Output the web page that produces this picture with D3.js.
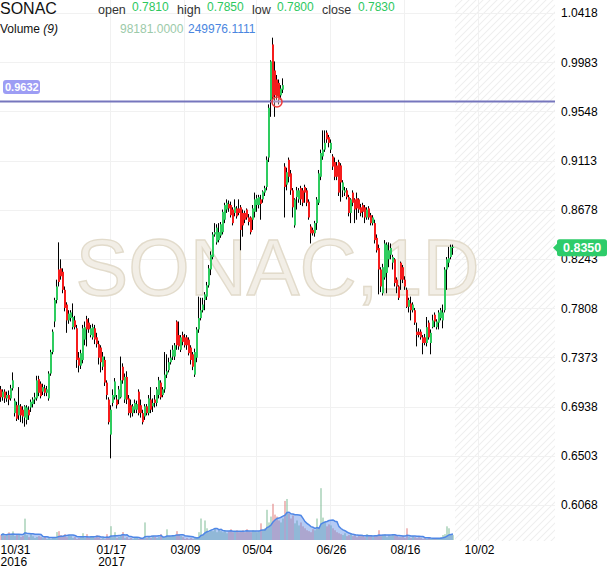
<!DOCTYPE html>
<html><head><meta charset="utf-8">
<script src="https://cdn.jsdelivr.net/npm/d3@7"></script>
<style>
html,body{margin:0;padding:0;background:#fff;}
svg{display:block;font-family:"Liberation Sans",Arial,sans-serif;}
</style></head><body>
<svg id="c" width="610" height="568"></svg>
<script>
const symbol = "SONAC";
const watermark = "SONAC,1D";
const open = [
.709,.702,.707,.701,.704,.701,.710,.688,.695,.686,
.694,.691,.684,.682,.691,.693,.696,.700,.701,.718,
.714,.707,.710,.706,.701,.723,.742,.769,.788,.815,
.816,.813,.797,.784,.770,.772,.764,.770,.763,.737,
.730,.735,.753,.771,.768,.757,.755,.763,.755,.749,
.746,.729,.735,.715,.700,.669,.697,.702,.700,.700,
.702,.729,.700,.720,.701,.695,.688,.691,.691,.707,
.695,.688,.685,.694,.688,.700,.694,.700,.697,.704,
.715,.704,.709,.722,.726,.733,.738,.738,.769,.757,
.744,.757,.755,.755,.753,.746,.740,.722,.737,.762,
.772,.779,.788,.791,.801,.815,.826,.846,.839,.841,
.845,.848,.859,.868,.873,.872,.868,.865,.869,.869,
.870,.865,.865,.868,.861,.861,.859,.866,.872,.872,
.877,.877,.883,.888,.914,.965,1.014,.991,.983,.980,
.969,.974,.906,.890,.912,.900,.885,.854,.879,.877,
.887,.885,.888,.885,.875,.853,.850,.847,.856,.874,
.897,.915,.921,.936,.932,.921,.915,.910,.907,.910,
.907,.885,.883,.885,.879,.865,.883,.877,.878,.877,
.870,.872,.870,.861,.869,.863,.856,.856,.843,.834,
.815,.794,.808,.812,.824,.828,.821,.824,.806,.800,
.821,.817,.806,.797,.782,.785,.779,.779,.760,.760,
.760,.755,.755,.750,.768,.750,.764,.775,.764,.768,
.772,.770,.779,.815,.821,.826,.834];
const high = [
.712,.709,.709,.707,.708,.713,.724,.701,.698,.711,
.696,.694,.695,.695,.694,.700,.702,.706,.721,.721,
.716,.714,.713,.712,.725,.744,.762,.790,.806,.839,
.824,.816,.800,.786,.779,.779,.785,.774,.766,.742,
.744,.766,.769,.774,.772,.766,.767,.766,.759,.752,
.748,.742,.738,.717,.702,.695,.709,.719,.704,.712,
.738,.732,.723,.725,.704,.700,.696,.700,.699,.709,
.700,.691,.696,.696,.704,.711,.701,.704,.711,.720,
.717,.711,.742,.740,.737,.744,.748,.750,.770,.769,
.757,.760,.758,.757,.755,.748,.742,.745,.764,.791,
.790,.790,.795,.804,.819,.831,.848,.856,.855,.856,
.857,.868,.874,.877,.876,.875,.870,.877,.871,.877,
.872,.868,.867,.869,.864,.862,.872,.883,.881,.881,
.881,.885,.889,.915,.961,1.000,1.020,.999,.987,.983,
.978,.984,.909,.905,.914,.903,.887,.878,.888,.887,
.889,.887,.890,.887,.877,.855,.852,.858,.879,.903,
.921,.938,.938,.938,.934,.930,.917,.914,.910,.912,
.909,.894,.888,.887,.881,.878,.885,.878,.883,.878,
.873,.874,.872,.870,.871,.865,.863,.859,.846,.837,
.817,.820,.841,.839,.839,.838,.828,.825,.808,.801,
.822,.819,.809,.799,.790,.791,.786,.781,.768,.763,
.762,.757,.758,.773,.770,.762,.775,.777,.771,.779,
.781,.784,.817,.826,.835,.837,.837];
const low = [
.698,.699,.697,.698,.695,.699,.708,.685,.681,.682,
.680,.679,.676,.678,.682,.689,.693,.696,.699,.703,
.701,.704,.703,.703,.699,.721,.740,.764,.785,.800,
.806,.794,.778,.759,.767,.769,.762,.762,.728,.724,
.727,.732,.748,.747,.759,.755,.753,.749,.746,.731,
.724,.726,.712,.700,.678,.648,.694,.700,.692,.696,
.701,.714,.697,.696,.686,.684,.685,.688,.688,.686,
.684,.678,.682,.686,.686,.688,.689,.693,.694,.701,
.700,.702,.706,.719,.724,.731,.735,.735,.744,.744,
.742,.748,.746,.744,.739,.731,.726,.720,.733,.759,
.770,.777,.779,.788,.799,.810,.824,.844,.837,.839,
.843,.846,.856,.865,.866,.861,.854,.862,.860,.863,
.832,.844,.856,.859,.854,.846,.850,.861,.866,.869,
.859,.874,.880,.885,.910,.950,.965,.950,.965,.961,
.965,.971,.861,.885,.892,.881,.861,.852,.868,.874,
.872,.871,.874,.871,.859,.838,.845,.844,.850,.872,
.894,.912,.919,.927,.923,.918,.903,.894,.894,.880,
.875,.879,.880,.877,.862,.856,.871,.856,.859,.865,
.862,.861,.856,.859,.859,.854,.854,.838,.830,.793,
.795,.792,.806,.794,.817,.824,.815,.800,.794,.788,
.797,.803,.797,.781,.777,.770,.777,.766,.747,.755,
.753,.740,.748,.747,.753,.740,.763,.764,.762,.762,
.770,.763,.777,.797,.817,.824,.828];
const close = [
.702,.707,.701,.704,.700,.710,.717,.699,.683,.695,
.686,.685,.694,.693,.686,.698,.700,.702,.717,.706,
.703,.711,.706,.709,.723,.742,.760,.788,.800,.804,
.809,.797,.781,.770,.776,.777,.773,.764,.735,.730,
.741,.763,.764,.762,.762,.763,.764,.753,.749,.737,
.733,.738,.715,.704,.680,.691,.704,.716,.695,.709,
.717,.717,.720,.700,.688,.688,.694,.697,.696,.688,
.688,.680,.694,.688,.701,.691,.697,.697,.709,.717,
.702,.709,.722,.725,.733,.737,.744,.748,.748,.747,
.755,.751,.748,.748,.741,.735,.729,.742,.762,.772,
.779,.784,.793,.801,.816,.828,.846,.848,.852,.848,
.855,.866,.872,.874,.869,.863,.856,.870,.862,.865,
.850,.854,.859,.861,.857,.848,.869,.877,.878,.879,
.873,.884,.887,.912,.958,.999,.967,.969,.968,.965,
.975,.978,.888,.901,.897,.885,.870,.877,.885,.885,
.877,.874,.883,.874,.861,.847,.847,.856,.877,.900,
.918,.921,.927,.930,.927,.927,.906,.897,.897,.883,
.892,.892,.885,.879,.865,.877,.874,.868,.869,.868,
.865,.866,.861,.868,.861,.856,.861,.841,.832,.815,
.800,.817,.838,.837,.832,.834,.826,.803,.800,.790,
.806,.806,.800,.782,.788,.779,.784,.768,.757,.757,
.755,.750,.750,.764,.755,.759,.770,.769,.769,.777,
.779,.777,.815,.824,.825,.835,.835];
// volume in thousands of shares
const volume = [
380,520,310,450,590,370,660,300,440,380,
230,310,1640,370,220,450,290,160,230,300,
220,150,300,80,160,70,230,150,610,680,
380,300,450,220,370,300,150,230,80,150,
220,520,150,450,160,230,300,150,370,220,
80,150,70,450,160,1060,220,600,150,230,
300,610,150,220,80,150,70,150,230,80,
150,80,1350,150,220,160,300,230,150,220,
450,220,150,820,300,230,380,300,680,450,
300,220,80,150,70,150,80,150,220,600,
1650,450,1500,900,600,750,680,900,600,760,
680,600,750,520,680,830,600,670,750,600,
680,750,600,830,670,600,750,680,600,670,
1280,750,900,2320,1350,1800,2780,1950,1800,1500,
1350,1650,3000,3150,2020,1650,1880,1280,1500,1120,
1350,1050,900,750,680,600,830,750,1650,900,
3980,1720,1350,1050,1200,1120,900,750,600,520,
450,380,520,300,380,450,300,380,220,380,
300,380,220,450,300,380,220,300,380,750,
300,380,450,220,380,300,450,380,300,220,
220,300,150,900,220,150,300,220,150,220,
150,80,150,80,220,80,150,80,150,150,
220,380,450,1050,900,450,380];
const yTicks = [1.0418,0.9983,0.9548,0.9113,0.8678,0.8243,0.7808,0.7373,0.6938,0.6503,0.6068];
const xTickIdx = [0,55,92,128,165,202,239];
const xTickLabels = [["10/31","2016"],["01/17","2017"],["03/09"],["05/04"],["06/26"],["08/16"],["10/02"]];
const hLinePrice = 0.9632;
const markIdx = 138;
const lastPrice = 0.8350;
const legendNames = ["open","high","low","close"];
const legendValues = ["0.7810","0.7850","0.7800","0.7830"];
const volLegendValues = ["98181.0000","249976.1111"];
const maPeriod = 9;

const N = close.length;
const data = close.map((c,i)=>({i,o:open[i],h:high[i],l:low[i],c,v:volume[i]}));
data.forEach((d,i)=>{ const s=data.slice(Math.max(0,i-maPeriod+1),i+1); d.ma=d3.mean(s,e=>e.v); });

const svg = d3.select("#c");
const plotR = 555, plotB = 540;
const x = d3.scaleLinear().domain([-0.5,277]).range([0,plotR]);
const y = d3.scaleLinear().domain([0.5758,1.0533]).range([plotB,0]);
const yv = d3.scaleLinear().domain([0,4300]).range([plotB,484]);
const GREEN="#2ecc5f", RED="#f51c1c";

const defs = svg.append("defs");
const pat = defs.append("pattern").attr("id","hatch").attr("patternUnits","userSpaceOnUse").attr("width",7).attr("height",7);
pat.append("path").attr("d","M-1,1 l2,-2 M0,7 l7,-7 M6,8 l2,-2").attr("stroke","#efefef").attr("stroke-width",1.1);

// hatched future zone
svg.append("rect").attr("x",x(N)).attr("y",0).attr("width",plotR-x(N)).attr("height",plotB+1).attr("fill","url(#hatch)");

// grid
const grid = svg.append("g");
grid.selectAll(".hg").data(yTicks).join("line").attr("class","hg")
  .attr("x1",0).attr("x2",plotR)
  .attr("y1",d=>Math.round(y(d))+0.5).attr("y2",d=>Math.round(y(d))+0.5)
  .attr("stroke","#f1f1f1");
grid.selectAll(".vg").data(xTickIdx.slice(1)).join("line").attr("class","vg")
  .attr("x1",d=>Math.round(x(d))-0.5).attr("x2",d=>Math.round(x(d))-0.5)
  .attr("y1",0).attr("y2",plotB)
  .attr("stroke","#f1f1f1");

// watermark
svg.append("text").attr("x",x(138.25)).attr("y",295).attr("text-anchor","middle")
  .attr("font-size",79).attr("fill","#f2eee6").attr("stroke","#e2dbcb").attr("stroke-width",1.4)
  .text(watermark);

// volume
svg.append("g").selectAll("rect").data(data).join("rect")
  .attr("x",d=>x(d.i)-0.5).attr("width",1)
  .attr("y",d=>yv(d.v)).attr("height",d=>plotB-yv(d.v))
  .attr("fill",d=>d.c>=d.o?"#7fbb95":"#e07b7b");
const area = d3.area().x(d=>x(d.i)).y0(plotB).y1(d=>yv(d.ma));
svg.append("path").datum(data).attr("d",area).attr("fill","rgba(90,140,230,0.45)");
const line = d3.line().x(d=>x(d.i)).y(d=>yv(d.ma));
svg.append("path").datum(data).attr("d",line).attr("fill","none").attr("stroke","#4f87e6").attr("stroke-width",1.5);

// candles
const cg = svg.append("g");
cg.selectAll("line").data(data).join("line")
  .attr("x1",d=>x(d.i)-0.5).attr("x2",d=>x(d.i)-0.5)
  .attr("y1",d=>y(d.h)).attr("y2",d=>y(d.l))
  .attr("stroke","#000").attr("stroke-width",1);
cg.selectAll("rect").data(data).join("rect")
  .attr("x",d=>x(d.i)-1).attr("width",2)
  .attr("y",d=>y(Math.max(d.o,d.c)))
  .attr("height",d=>Math.max(1,Math.abs(y(d.o)-y(d.c))))
  .attr("fill",d=>d.c>=d.o?GREEN:RED);

// horizontal price line
const hy = y(hLinePrice);
svg.append("line").attr("x1",0).attr("x2",plotR).attr("y1",hy-0.5).attr("y2",hy-0.5)
  .attr("stroke","#7676bd").attr("stroke-width",2);
svg.append("rect").attr("x",3).attr("y",hy-22).attr("width",37).attr("height",14).attr("rx",3)
  .attr("fill","#9d9df4");
svg.append("text").attr("x",5).attr("y",hy-11).attr("font-size",11).attr("fill","#fff").attr("font-weight","bold")
  .text(d3.format(".4f")(hLinePrice));
svg.append("circle").attr("cx",x(markIdx)).attr("cy",hy).attr("r",5)
  .attr("fill","rgba(255,210,210,0.35)").attr("stroke","#f03a3a").attr("stroke-width",1.5);

// right axis
const ya = d3.axisRight(y).tickValues(yTicks).tickFormat(d3.format(".4f")).tickSize(0).tickPadding(6);
svg.append("g").attr("transform",`translate(${plotR},0)`).call(ya)
  .call(g=>g.select(".domain").remove())
  .call(g=>g.selectAll("text").attr("font-size",12).attr("fill","#000").attr("font-family","'Liberation Sans',Arial,sans-serif"));

// bottom axis
const xa = d3.axisBottom(x).tickValues(xTickIdx).tickFormat(()=> "").tickSize(0);
const xg = svg.append("g").attr("transform",`translate(0,${plotB})`).call(xa);
xg.select(".domain").remove();
xg.selectAll(".tick").each(function(d,k){
  const t = d3.select(this).select("text")
    .attr("font-size",12).attr("fill","#000").attr("font-family","'Liberation Sans',Arial,sans-serif")
    .attr("y",14).attr("dy",null)
    .attr("text-anchor",k===0?"start":"middle")
    .attr("x",k===0?-x(d):0);
  xTickLabels[k].forEach((s,j)=>{
    t.append("tspan").attr("x",k===0?-x(d):0).attr("dy",j===0?0:11.5).text(s);
  });
});

// last price tag
const ly = y(lastPrice)+1;
svg.append("path").attr("d",`M553,${ly} L557,${ly-4} L557,${ly-6} Q557,${ly-8.5} 559.5,${ly-8.5} L604.5,${ly-8.5} Q607,${ly-8.5} 607,${ly-6} L607,${ly+6} Q607,${ly+8.5} 604.5,${ly+8.5} L559.5,${ly+8.5} Q557,${ly+8.5} 557,${ly+6} L557,${ly+4} Z`)
  .attr("fill","#2ecc6a");
svg.append("text").attr("x",563).attr("y",ly+4.5).attr("font-size",12.5).attr("font-weight","bold").attr("fill","#fff")
  .text(d3.format(".4f")(lastPrice));

// header
svg.append("text").attr("x",0).attr("y",14).attr("font-size",16).attr("fill","#111").text(symbol);
const lx = [98,177,252,322], vx=[132,207,277,358];
legendNames.forEach((n,k)=>{
  svg.append("text").attr("x",lx[k]).attr("y",14).attr("font-size",12.5).attr("fill","#333").text(n);
  svg.append("text").attr("x",vx[k]).attr("y",11).attr("font-size",12).attr("fill","#2dc85e").text(legendValues[k]);
});
const vt = svg.append("text").attr("x",0).attr("y",33).attr("font-size",12).attr("fill","#111");
vt.append("tspan").text("Volume ");
vt.append("tspan").attr("font-style","italic").text(`(${maPeriod})`);
svg.append("text").attr("x",120).attr("y",33).attr("font-size",12).attr("fill","#9ccaa9").text(volLegendValues[0]);
svg.append("text").attr("x",188).attr("y",33).attr("font-size",12).attr("fill","#4a86e0").text(volLegendValues[1]);
</script>
</body></html>
